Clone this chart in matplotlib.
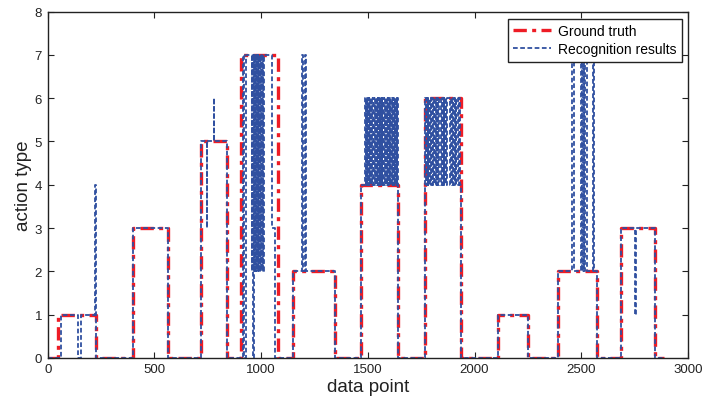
import numpy as np
import matplotlib
matplotlib.use("Agg")
import matplotlib.pyplot as plt

plt.rcParams['font.family'] = ['Liberation Sans', 'DejaVu Sans']

# ground truth: change points and the action type held from each one
gt_x = [0, 50, 225, 400, 563, 718, 840, 906, 1077, 1150, 1345, 1467, 1640,
        1767, 1936, 2108, 2252, 2389, 2573, 2684, 2846, 2890]
gt_y = [0, 1, 0, 3, 0, 5, 0, 7, 0, 2, 0, 4, 0,
        6, 0, 1, 0, 2, 0, 3, 0, 0]

# recognition results: change points and recognised action type
rec_x = [0, 64, 143, 158, 220, 224, 400, 563, 718, 744, 748, 777, 780, 840,
         913, 920, 928, 956, 959, 962, 965, 968, 971, 974, 977, 980, 983, 986,
         989, 992, 995, 998, 1001, 1004, 1007, 1010, 1014, 1050, 1066,
         1150, 1190, 1196, 1206, 1212, 1345,
         1467, 1486, 1489, 1492, 1495, 1498, 1501, 1504, 1507, 1510, 1513, 1516,
         1519, 1522, 1531, 1534, 1537, 1540, 1543, 1546, 1549, 1552, 1555, 1558,
         1561, 1564, 1567, 1570, 1578, 1581, 1584, 1587, 1590, 1593, 1596, 1599,
         1602, 1605, 1608, 1611, 1617, 1620, 1623, 1626, 1629, 1632, 1635, 1638,
         1640,
         1767, 1772, 1776, 1780, 1784, 1788, 1792, 1796, 1800, 1804, 1808,
         1814, 1818, 1822, 1826, 1830, 1834, 1843, 1847, 1851, 1855, 1859, 1863,
         1867, 1871, 1887, 1891, 1895, 1899, 1903, 1907, 1911, 1915, 1922, 1927,
         1931, 1936,
         2108, 2252, 2389, 2458, 2464, 2500, 2505, 2509, 2515, 2519, 2525, 2553,
         2559, 2573, 2684, 2750, 2758, 2846, 2890]
rec_y = [0, 1, 0, 1, 4, 0, 3, 0, 5, 3, 5, 6, 5, 0,
         7, 0, 7, 2, 7, 0, 7, 2, 7, 2, 7, 2, 7, 2,
         7, 2, 7, 2, 7, 2, 7, 2, 7, 3, 0,
         2, 7, 2, 7, 2, 0,
         4, 6, 4, 6, 4, 6, 4, 6, 4, 6, 4, 6,
         4, 6, 4, 6, 4, 6, 4, 6, 4, 6, 4, 6,
         4, 6, 4, 6, 4, 6, 4, 6, 4, 6, 4, 6,
         4, 6, 4, 6, 4, 6, 4, 6, 4, 6, 4, 6,
         0,
         6, 4, 6, 4, 6, 4, 6, 4, 6, 4, 6,
         4, 6, 4, 6, 4, 6, 4, 6, 4, 6, 4, 6,
         4, 6, 4, 6, 4, 6, 4, 6, 4, 6, 4, 6,
         4, 0,
         1, 0, 2, 7, 2, 7, 2, 7, 2, 7, 2, 7,
         2, 0, 3, 1, 3, 0, 0]

fig = plt.figure(figsize=(7.02, 4.06), dpi=100)
ax = fig.add_axes([0.068, 0.116, 0.912, 0.853])

ax.plot(gt_x, gt_y, drawstyle='steps-post', color='#ee1c25', lw=2.4,
        dashes=(4, 1.6, 1.2, 1.6), label='Ground truth')
ax.plot(rec_x, rec_y, drawstyle='steps-post', color='#3050a0', lw=1.3,
        dashes=(2.6, 1.4), label='Recognition results')

ax.set_xlim(0, 3000)
ax.set_ylim(0, 8)
ax.set_xticks(np.arange(0, 3001, 500))
ax.set_yticks(np.arange(0, 9, 1))
ax.tick_params(direction='in', top=True, right=True, length=4, width=0.8,
               labelsize=9.5, colors='#222222', pad=4)
for s in ax.spines.values():
    s.set_linewidth(1.0)
    s.set_color('#222222')

ax.set_xlabel('data point', fontsize=13.5, color='#222222', labelpad=2)
ax.set_ylabel('action type', fontsize=13.5, color='#222222', labelpad=2)

leg = ax.legend(loc='upper right', bbox_to_anchor=(0.990, 0.980),
                borderaxespad=0, fontsize=10, fancybox=False, framealpha=1,
                edgecolor='#222222', handlelength=2.7, handletextpad=0.5,
                borderpad=0.4, labelspacing=0.3)
leg.get_frame().set_linewidth(1.0)

fig.savefig('out.png', dpi=100)
